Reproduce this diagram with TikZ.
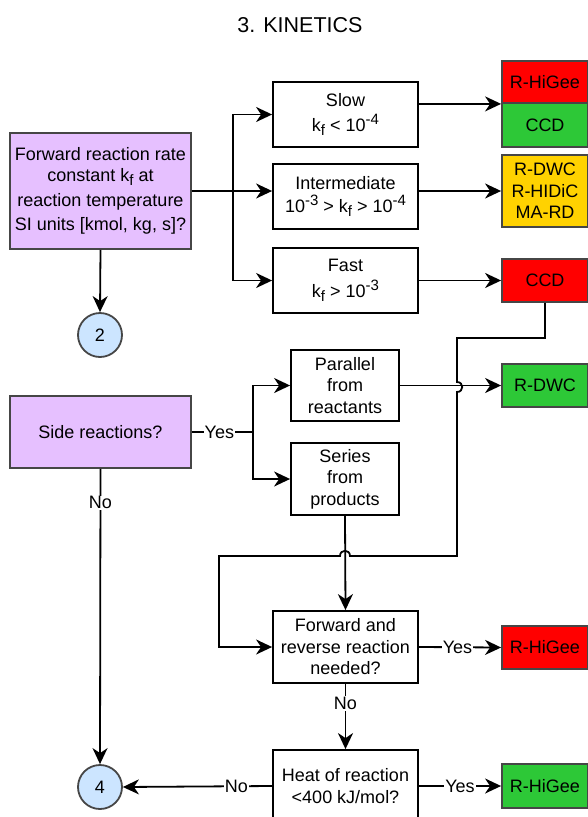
\documentclass[tikz,border=0pt]{standalone}
\usepackage{fontspec}
\setmainfont{Liberation Sans}
\usetikzlibrary{arrows.meta,positioning}

\definecolor{querypurple}{RGB}{230,192,255}
\definecolor{resred}{RGB}{255,0,0}
\definecolor{resgreen}{RGB}{45,200,55}
\definecolor{resyellow}{RGB}{255,210,0}
\definecolor{connblue}{RGB}{204,229,255}
\definecolor{edgegray}{RGB}{70,70,70}

\newcommand{\hiexp}[1]{\raisebox{7pt}{\fontsize{15}{15}\selectfont #1}}
\newcommand{\losub}[1]{\raisebox{-4pt}{\fontsize{15}{15}\selectfont #1}}

\begin{document}
\begin{tikzpicture}[x=1pt,y=-1pt,
  every node/.style={font=\fontsize{18}{21.5}\selectfont},
  box/.style={rectangle,draw=black,line width=1.8pt,fill=white,align=center,inner sep=0pt,minimum width=145pt,minimum height=65pt},
  query/.style={rectangle,draw=edgegray,line width=1.8pt,fill=querypurple,align=center,inner sep=0pt,minimum width=181pt},
  result/.style={rectangle,draw=edgegray,line width=1.8pt,align=center,inner sep=0pt,minimum width=86pt,minimum height=43pt},
  conn/.style={circle,draw=edgegray,line width=1.8pt,fill=connblue,inner sep=0pt,minimum size=44pt},
  arrow/.style={-{Stealth[length=16pt,width=15pt,inset=5pt]},line width=1.8pt},
  lbl/.style={fill=white,inner sep=1pt}
]
\useasboundingbox (0,0) rectangle (588,817);

\node (title) at (300,25) {\fontsize{21.5}{24}\selectfont 3. KINETICS};

% rate constant and its three ranges
\node[query,minimum height=116pt] (rate) at (100.5,191) {Forward reaction rate\\constant k\losub{f} at\\[3pt]reaction temperature\\[3pt]SI units [kmol, kg, s]?};
\node[conn] (c2) at (100,335) {2};
\node[box] (slow) at (345.5,114.5) {Slow\\[4pt]k\losub{f} < 10\hiexp{-4}};
\node[box] (inter) at (345.5,196.5) {Intermediate\\[1pt]10\hiexp{-3} > k\losub{f} > 10\hiexp{-4}};
\node[box] (fast) at (345.5,280.5) {Fast\\[4pt]k\losub{f} > 10\hiexp{-3}};

\node[result,fill=resred,minimum height=42pt] (higee1) at (545,82) {R-HiGee};
\node[result,fill=resgreen,minimum height=44pt] (ccd1) at (545,125) {CCD};
\node[result,fill=resyellow,minimum height=72pt] (mixed) at (545,191) {R-DWC\\R-HIDiC\\MA-RD};
\node[result,fill=resred] (ccd2) at (545,280.5) {CCD};

% side reactions
\node[query,minimum height=72pt] (side) at (100.5,432) {Side reactions?};
\node[box,minimum width=108pt,minimum height=71pt] (par) at (345,385.5) {Parallel\\from\\reactants};
\node[box,minimum width=108pt,minimum height=72pt] (ser) at (345,479) {Series\\from\\products};
\node[result,fill=resgreen] (rdwc) at (545,385.5) {R-DWC};

% equilibrium and heat
\node[box,minimum height=72pt] (fwd) at (345.5,647) {Forward and\\reverse reaction\\needed?};
\node[result,fill=resred] (higee2) at (545,647.5) {R-HiGee};
\node[box,minimum height=72pt] (heat) at (345.5,786) {Heat of reaction\\<400 kJ/mol?};
\node[result,fill=resgreen,minimum height=44pt] (higee3) at (545,786) {R-HiGee};
\node[conn] (c4) at (100,787) {4};

% rate branches
\draw[arrow] (rate.south) -- (c2.north);
\draw[arrow] (rate.east) -- (inter.west |- rate.east);
\draw[arrow] (rate.east) -- ++(41,0) |- (slow.west);
\draw[arrow] (rate.east) -- ++(41,0) |- (fast.west);
\draw[arrow] (slow.east |- higee1.south) -- (higee1.south west);
\draw[arrow] (inter.east |- mixed.west) -- (mixed.west);
\draw[arrow] (fast.east |- ccd2.west) -- (ccd2.west);

% side reaction branches
\draw[arrow] (side.east) -- ++(61,0) |- (ser.west);
\draw[arrow] (side.east) -- node[lbl,pos=0.45]{Yes} ++(61,0) |- (par.west);
\draw[arrow] (par.east) -- (rdwc.west);
\draw[arrow] (ser.south) -- (fwd.north);
\draw[arrow] (side.south) -- node[lbl,pos=0.115]{No} (c4.north);

% fast CCD back to the equilibrium question, hopping over two lines
\draw[arrow] (ccd2.south) -- (545,338) -- (457,338) -- (457,382)
  .. controls (464,382) and (464,392) .. (457,392) -- (457,556) -- (350,556)
  .. controls (350,549) and (340,549) .. (340,556) -- (219,556) |- (fwd.west);

% equilibrium and heat decisions
\draw[arrow] (fwd.east) -- node[lbl,pos=0.47]{Yes} (higee2.west);
\draw[arrow] (fwd.south) -- node[lbl,pos=0.3]{No} (heat.north);
\draw[arrow] (heat.east) -- node[lbl,pos=0.5]{Yes} (higee3.west);
\draw[arrow] (heat.west) -- node[lbl,pos=0.24]{No} (c4.east);

\end{tikzpicture}
\end{document}
